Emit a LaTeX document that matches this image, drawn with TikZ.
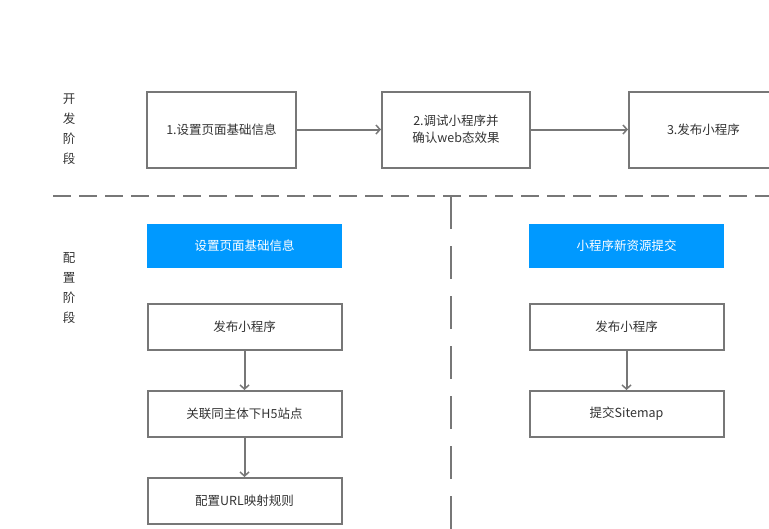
\documentclass[tikz,border=0pt]{standalone}
\usepackage{fontspec}
\setmainfont{Noto Sans CJK SC}
\usetikzlibrary{arrows.meta}
\definecolor{edge}{HTML}{777777}
\definecolor{txt}{HTML}{333333}
\definecolor{blueb}{HTML}{0099FF}
\tikzset{
  box/.style={draw=edge, line width=2pt, fill=white, text=txt, font=\fontsize{12.5}{17}\selectfont, align=center, inner sep=0pt},
  bluebox/.style={fill=blueb, text=white, font=\fontsize{12.5}{17}\selectfont, inner sep=0pt},
  conn/.style={draw=edge, line width=2pt, -{Straight Barb[length=4pt,width=9pt,line width=1.5pt]}},
  sep/.style={draw=edge, line width=2pt},
  stage/.style={text=txt, font=\fontsize{12.5}{20}\selectfont, align=center, inner sep=0pt}
}
\begin{document}
\begin{tikzpicture}[x=1pt,y=-1pt]
\useasboundingbox (0,0) rectangle (769,528);
\clip (0,0) rectangle (769,528);
% separators
\draw[sep, dash pattern=on 18pt off 8pt] (53,196) -- (790,196);
\draw[sep, dash pattern=on 33pt off 17pt] (451,196) -- (451,540);
% stage labels
\node[stage] (s1) at (69,129) {开\\发\\阶\\段};
\node[stage] (s2) at (69,288) {配\\置\\阶\\段};
% development row
\node[box, minimum width=149pt, minimum height=76pt] (d1) at (221.5,129.5) {1.设置页面基础信息};
\node[box, minimum width=148pt, minimum height=76pt] (d2) at (456,129.5) {2.调试小程序并\\确认web态效果};
\node[box, minimum width=149pt, minimum height=76pt] (d3) at (703.5,129.5) {3.发布小程序};
\draw[conn] (d1) -- (d2);
\draw[conn] (d2) -- (d3);
% config left
\node[bluebox, minimum width=195pt, minimum height=44pt] (b1) at (244.5,246) {设置页面基础信息};
\node[box, minimum width=194pt, minimum height=46pt] (l1) at (244.5,326.5) {发布小程序};
\node[box, minimum width=194pt, minimum height=46pt] (l2) at (244.5,414) {关联同主体下H5站点};
\node[box, minimum width=194pt, minimum height=46pt] (l3) at (244.5,501) {配置URL映射规则};
\draw[conn] (l1) -- (l2);
\draw[conn] (l2) -- (l3);
% config right
\node[bluebox, minimum width=195pt, minimum height=44pt] (b2) at (626.5,246) {小程序新资源提交};
\node[box, minimum width=194pt, minimum height=46pt] (r1) at (626.5,326.5) {发布小程序};
\node[box, minimum width=194pt, minimum height=46pt] (r2) at (626.5,414) {提交Sitemap};
\draw[conn] (r1) -- (r2);
\end{tikzpicture}
\end{document}
